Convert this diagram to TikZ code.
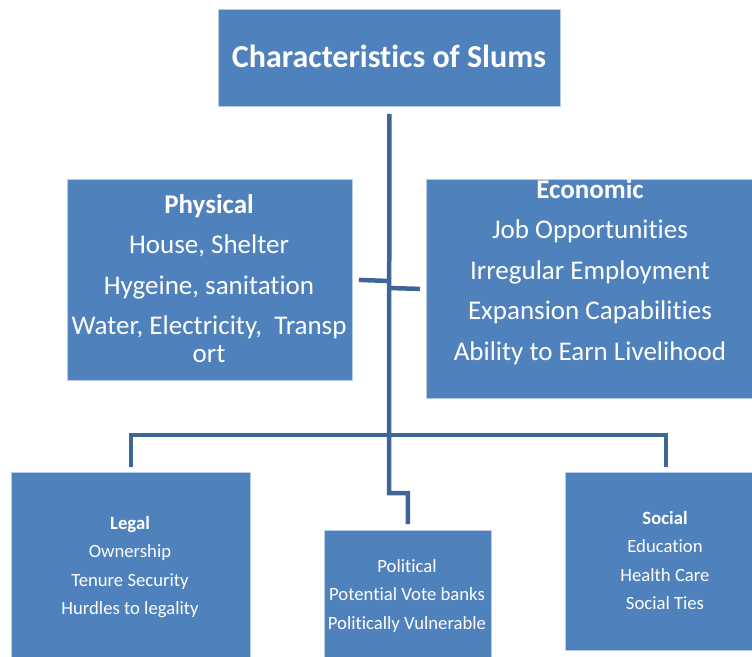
\documentclass[tikz,border=0pt]{standalone}
\usepackage{fontspec}
\setmainfont{Carlito}[RawFeature=-liga]
\usetikzlibrary{positioning, calc}
\definecolor{cBox} {HTML}{4F81BD}
\definecolor{cEdge}{HTML}{B9CDE5}
\definecolor{cLink}{HTML}{3F6597}

\begin{document}
\begin{tikzpicture}[x=1pt, y=-1pt,
    box/.style={draw=cEdge, fill=cBox, line width=0.8pt, inner sep=0pt, anchor=north west},
    boxtext/.style={text=white, align=center, inner sep=0pt},
    link/.style={draw=cLink, line width=4.5pt},
  ]
  \useasboundingbox (0,0) rectangle (752,656);

  % boxes
  \node[box, minimum width=342pt, minimum height=97pt] (title) at (218,9) {};
  \node[box, minimum width=285pt, minimum height=201pt] (phys) at (67,179) {};
  \node[box, minimum width=330pt, minimum height=219pt] (econ) at (426,179) {};
  \node[box, minimum width=239pt, minimum height=195pt] (legal) at (11,472) {};
  \node[box, minimum width=167pt, minimum height=135pt] (polit) at (324,530) {};
  \node[box, minimum width=190pt, minimum height=178pt] (social) at (565,472) {};

  % texts
  \node[boxtext, font=\fontsize{32}{36}\selectfont\bfseries] (titleText) at (389,56)
       {Characteristics of Slums};
  \node[boxtext, anchor=north, font=\fontsize{27}{28}\selectfont] (physText) at (209,194)
       {\textbf{Physical}\\[12.5pt] House, Shelter\\[12.5pt] Hygeine, sanitation\\[12.5pt]
        Water, Electricity, \ Transp\\ ort};
  \node[boxtext, anchor=north, font=\fontsize{27}{28}\selectfont] (econText) at (590,179)
       {\textbf{Economic}\\[12.5pt] Job Opportunities\\[12.5pt] Irregular Employment\\[12.5pt]
        Expansion Capabilities\\[12.5pt] Ability to Earn Livelihood};
  \node[boxtext, anchor=north, font=\fontsize{18.7}{28.5}\selectfont] (legalText) at (130,516)
       {\textbf{Legal}\\ Ownership\\ Tenure Security\\ Hurdles to legality};
  \node[boxtext, anchor=north, font=\fontsize{18.7}{28.5}\selectfont] (politText) at (407,559)
       {Political\\ Potential Vote banks\\ Politically Vulnerable};
  \node[boxtext, anchor=north, font=\fontsize{18.7}{28.5}\selectfont] (socialText) at (665,511)
       {\textbf{Social}\\ Education\\ Health Care\\ Social Ties};

  % junctions of the tree
  \coordinate (trunkTop) at ($(title.south)+(0,7)$);
  \coordinate (physJoin) at (389,281);
  \coordinate (econJoin) at (389,288);
  \coordinate (hub) at (389,435);
  \coordinate (jog) at (389,493);
  \coordinate (socialDrop) at (666,467);

  % connectors
  \draw[link] (trunkTop) -- (jog) -| ($(polit.north)+(0,-6)$);
  \draw[link] ($(phys.east)+(6,0)$ |- physJoin) -- (physJoin);
  \draw[link] (econJoin) -- ($(econ.west)+(-6,0)$ |- econJoin);
  \draw[link] ($(legal.north)+(0,-5)$) |- (hub) -| (socialDrop);
\end{tikzpicture}
\end{document}
